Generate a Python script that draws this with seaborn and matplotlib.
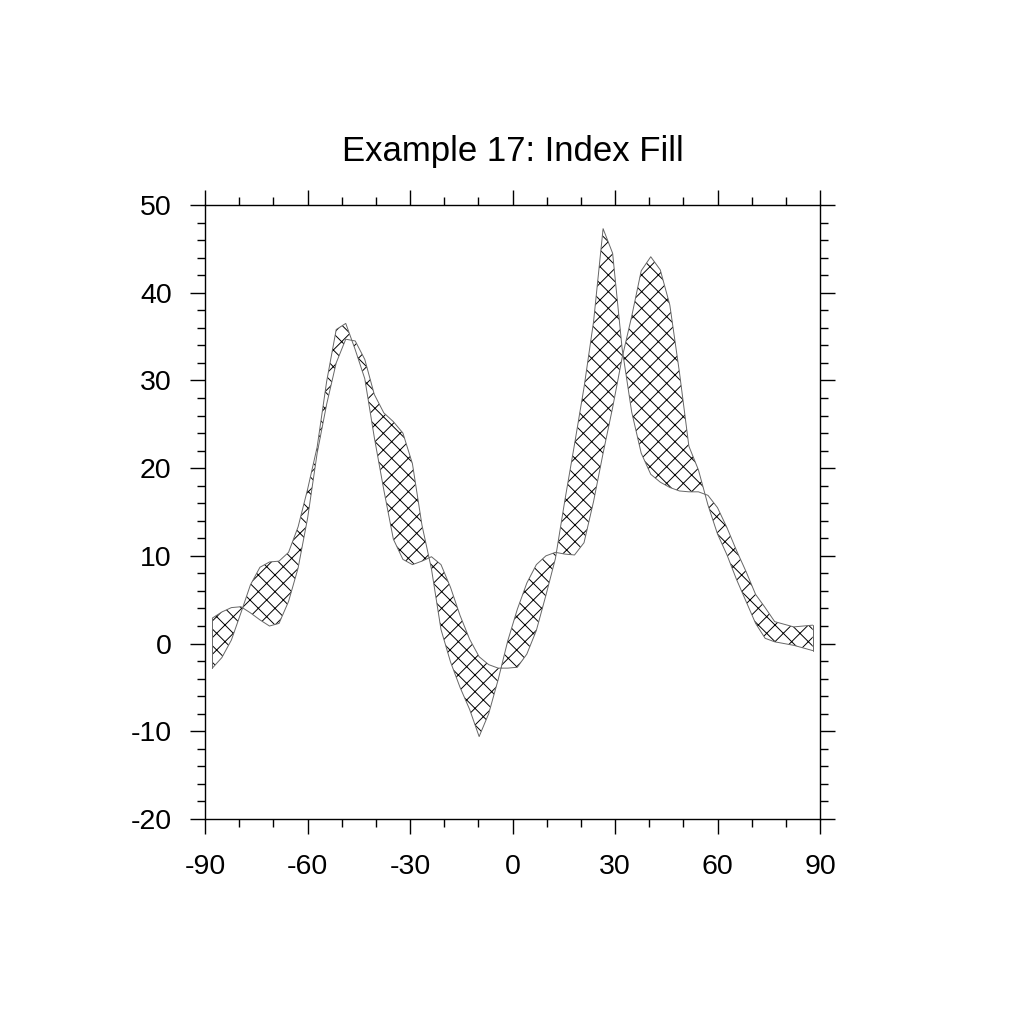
import numpy as np
import pandas as pd
import matplotlib
matplotlib.use("Agg")
import matplotlib.pyplot as plt
import seaborn as sns
from matplotlib.ticker import MultipleLocator

# latitude points (gaussian-like grid)
lat = [-87.86, -85.07, -82.28, -79.49, -76.70, -73.92, -71.13, -68.34, -65.55, -62.76,
       -59.97, -57.18, -54.39, -51.60, -48.81, -46.03, -43.24, -40.45, -37.66, -34.87,
       -32.08, -29.29, -26.50, -23.72, -20.93, -18.14, -15.35, -12.56, -9.77, -6.98,
       -4.19, -1.40, 1.40, 4.19, 6.98, 9.77, 12.56, 15.35, 18.14, 20.93,
       23.72, 26.51, 29.30, 32.09, 34.88, 37.67, 40.46, 43.25, 46.04, 48.83,
       51.62, 54.41, 57.20, 59.99, 62.78, 65.57, 68.36, 71.15, 73.94, 76.73,
       79.52, 82.31, 85.10, 87.86]

# first series
u_a = [2.9, 3.6, 4.1, 4.2,
       3.5, 2.7, 2.0, 2.3, 4.8, 8.6, 14.3, 21.7, 27.3, 32.0, 34.7,
       34.5, 32.4, 28.4, 26.3, 25.3, 24.0, 20.5, 13.5,
       8.5, 1.6, -2.1, -5.0, -7.5, -10.6, -8.0, -4.1,
       0.3, 3.9, 6.9, 9.0, 10.0, 10.4,
       10.2, 10.1, 11.5, 16.2, 21.7, 26.9, 32.6,
       37.3, 42.5, 44.1, 42.6, 38.6, 31.0, 22.5, 19.8,
       15.8, 12.5, 10.1, 7.3, 4.8, 2.3, 0.6, 0.2, 0.0, -0.2, -0.5, -0.8]

# second series
u_b = [-2.8, -1.6, 0.4, 3.5,
       6.7, 8.7, 9.3, 9.4, 10.4, 13.3, 17.6, 22.4, 29.9, 35.8, 36.5,
       33.5, 30.2, 23.5, 17.5, 11.9, 9.6, 9.0, 9.4,
       9.9, 9.0, 6.4, 3.2, 0.5, -1.5, -2.4, -2.8,
       -2.8, -2.7, -1.2, 1.5, 5.5, 9.7,
       16.4, 22.7, 29.2, 36.7, 47.3, 44.5, 33.6,
       26.4, 21.7, 19.3, 18.4, 17.8, 17.4, 17.3, 17.3,
       16.9, 15.5, 13.2, 10.6, 8.2, 5.6, 4.1, 2.5, 2.2, 1.9, 2.0, 2.1]

df = pd.DataFrame({"lat": lat, "a": u_a, "b": u_b})

sns.set_theme(style="white")
plt.rcParams["font.family"] = ["Liberation Sans", "DejaVu Sans"]
plt.rcParams["hatch.linewidth"] = 0.7
plt.rcParams["axes.unicode_minus"] = False
plt.rcParams["text.color"] = "black"
plt.rcParams["xtick.color"] = "black"
plt.rcParams["ytick.color"] = "black"

fig = plt.figure(figsize=(10.24, 10.24), dpi=100)
ax = fig.add_axes([0.2002, 0.2002, 0.6006, 0.5996])

# hatched fill between the two curves
ax.fill_between(df["lat"], df["a"], df["b"], facecolor="none",
                edgecolor="black", hatch="xx", linewidth=0)

sns.lineplot(data=df, x="lat", y="a", ax=ax, color="#666666", linewidth=0.7, sort=False)
sns.lineplot(data=df, x="lat", y="b", ax=ax, color="#666666", linewidth=0.7, sort=False)
# closing edges at both ends
ax.plot([lat[0], lat[0]], [u_a[0], u_b[0]], color="#666666", linewidth=0.7)
ax.plot([lat[-1], lat[-1]], [u_a[-1], u_b[-1]], color="#666666", linewidth=0.7)

ax.set_xlim(-90, 90)
ax.set_ylim(-20, 50)
ax.set_xlabel("")
ax.set_ylabel("")

ax.xaxis.set_major_locator(MultipleLocator(30))
ax.xaxis.set_minor_locator(MultipleLocator(10))
ax.yaxis.set_major_locator(MultipleLocator(10))
ax.yaxis.set_minor_locator(MultipleLocator(2))

ax.tick_params(which="both", direction="out", top=True, right=True,
               bottom=True, left=True, color="black", width=1.0)
ax.tick_params(which="major", length=11, labelsize=20.5, labelcolor="black")
ax.tick_params(which="minor", length=5.5)
ax.tick_params(axis="x", which="major", pad=14)
ax.tick_params(axis="y", which="major", pad=13)

for s in ax.spines.values():
    s.set_color("black")
    s.set_linewidth(1.0)

ax.set_title("Example 17: Index Fill", fontsize=25, pad=32, color="black")

fig.savefig("out.png", dpi=100)
